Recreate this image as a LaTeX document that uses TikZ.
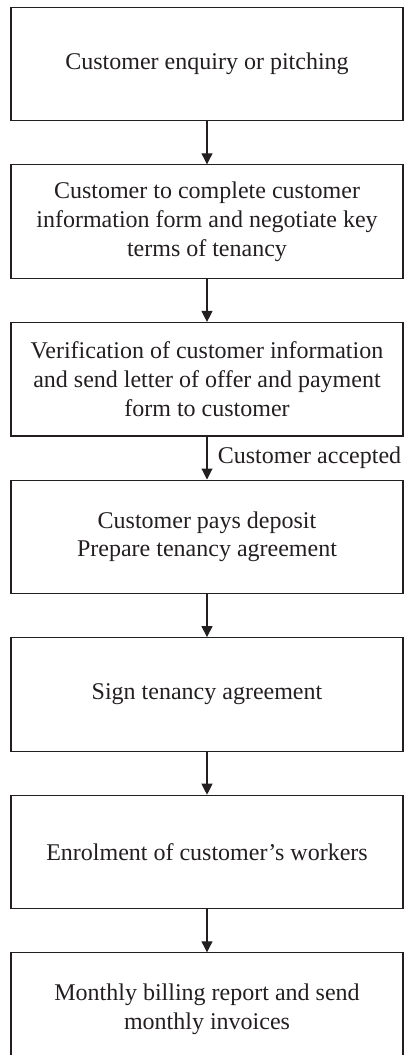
\documentclass[tikz,border=0pt]{standalone}
\usepackage{fontspec}
\setmainfont{Liberation Serif}
\usetikzlibrary{positioning, arrows.meta}
\definecolor{mline}{RGB}{35,31,32}

\begin{document}
\begin{tikzpicture}[x=1pt, y=1pt, node distance=43pt,
  stage/.style={draw=mline, line width=1.1pt, minimum width=392pt,
    minimum height=113.5pt, align=center, text=mline,
    font=\fontsize{24}{28.7}\selectfont},
  flow/.style={draw=mline, line width=1.1pt,
    -{Triangle[width=11pt,length=11pt]}}]
  \useasboundingbox (0,0) rectangle (404,-1055);
  % the tenancy steps, top to bottom
  \node[stage] (enquiry) at (207,-64) {Customer enquiry or pitching};
  \node[stage, below=of enquiry] (infoform) {Customer to complete customer\\information form and negotiate key\\terms of tenancy};
  \node[stage, below=of infoform] (verify) {Verification of customer information\\and send letter of offer and payment\\form to customer};
  \node[stage, below=of verify] (deposit) {Customer pays deposit\\Prepare tenancy agreement};
  \node[stage, below=of deposit] (sign) {Sign tenancy agreement};
  \node[stage, below=of sign] (enrol) {Enrolment of customer’s workers};
  \node[stage, below=of enrol] (billing) {Monthly billing report and send\\monthly invoices};
  % connectors
  \draw[flow] (enquiry) -- (infoform);
  \draw[flow] (infoform) -- (verify);
  \draw[flow] (verify) -- node[right, xshift=7pt, text=mline,
    font=\fontsize{24}{28.7}\selectfont] (accepted) {Customer accepted} (deposit);
  \draw[flow] (deposit) -- (sign);
  \draw[flow] (sign) -- (enrol);
  \draw[flow] (enrol) -- (billing);
\end{tikzpicture}
\end{document}
